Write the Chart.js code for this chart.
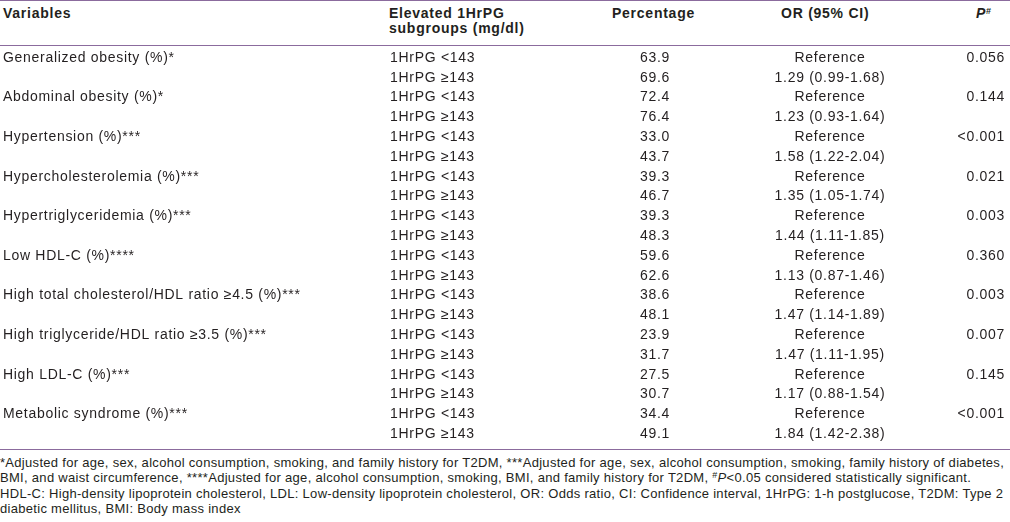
<!DOCTYPE html>
<html>
<head>
<meta charset="utf-8">
<script src="https://cdn.jsdelivr.net/npm/chart.js@4.4.1/dist/chart.umd.min.js"></script>
<style>
    html, body { margin: 0; padding: 0; background: #fff; }
    #wrap {
        position: relative; width: 1010px; height: 522px; overflow: hidden;
        font-family: "Liberation Sans", Arial, sans-serif; color: #231f20;
    }
    .rule { position: absolute; left: 0; width: 1010px; height: 1px; background: #8b6b9d; }
    .hd { position: absolute; font-weight: bold; font-size: 14px; line-height: 15px; letter-spacing: 0.75px; white-space: nowrap; }
    .note { position: absolute; left: 0; font-size: 13px; line-height: 15.5px; letter-spacing: 0.3px; white-space: nowrap; }
    #tableBox { position: absolute; left: 0; top: 47px; width: 1010px; height: 396px; }
    sup { font-size: 9px; vertical-align: 4px; line-height: 0; }
</style>
</head>
<body>
<div id="wrap">
    <div class="rule" style="top:0px;"></div>
    <div class="hd" style="left:3px; top:6px;">Variables</div>
    <div class="hd" style="left:389px; top:6px;">Elevated 1HrPG<br>subgroups (mg/dl)</div>
    <div class="hd" style="left:612px; top:6px;">Percentage</div>
    <div class="hd" style="left:781px; top:6px;">OR (95% CI)</div>
    <div class="hd" style="left:976px; top:6px;"><i>P</i><sup>#</sup></div>
    <div class="rule" style="top:45px;"></div>

    <div id="tableBox"><canvas id="oddsTable"></canvas></div>

    <div class="rule" style="top:449px;"></div>
    <div class="note" style="top:455px;">*Adjusted for age, sex, alcohol consumption, smoking, and family history for T2DM, ***Adjusted for age, sex, alcohol consumption, smoking, family history of diabetes,</div>
    <div class="note" style="top:470px;">BMI, and waist circumference, ****Adjusted for age, alcohol consumption, smoking, BMI, and family history for T2DM, <sup>#</sup><i>P</i>&lt;0.05 considered statistically significant.</div>
    <div class="note" style="top:486px;">HDL-C: High-density lipoprotein cholesterol, LDL: Low-density lipoprotein cholesterol, OR: Odds ratio, CI: Confidence interval, 1HrPG: 1-h postglucose, T2DM: Type 2</div>
    <div class="note" style="top:501px;">diabetic mellitus, BMI: Body mass index</div>
</div>

<script>
// ===== Table data =====
const variables = [
    'Generalized obesity (%)*',
    'Abdominal obesity (%)*',
    'Hypertension (%)***',
    'Hypercholesterolemia (%)***',
    'Hypertriglyceridemia (%)***',
    'Low HDL-C (%)****',
    'High total cholesterol/HDL ratio \u22654.5 (%)***',
    'High triglyceride/HDL ratio \u22653.5 (%)***',
    'High LDL-C (%)***',
    'Metabolic syndrome (%)***'
];
const subgroups = ['1HrPG <143', '1HrPG \u2265143'];
const pctLow = [63.9, 72.4, 33.0, 39.3, 39.3, 59.6, 38.6, 23.9, 27.5, 34.4];
const pctHigh = [69.6, 76.4, 43.7, 46.7, 48.3, 62.6, 48.1, 31.7, 30.7, 49.1];
const orHigh = [
    '1.29 (0.99-1.68)', '1.23 (0.93-1.64)', '1.58 (1.22-2.04)', '1.35 (1.05-1.74)', '1.44 (1.11-1.85)',
    '1.13 (0.87-1.46)', '1.47 (1.14-1.89)', '1.47 (1.11-1.95)', '1.17 (0.88-1.54)', '1.84 (1.42-2.38)'
];
const pValues = ['0.056', '0.144', '<0.001', '0.021', '0.003', '0.360', '0.003', '0.007', '0.145', '<0.001'];

// column anchors (x in px across the table)
const colVar = 3, colSub = 390, colPct = 670, colOr = 830, colP = 1005;

// two rows per variable
const rowKeys = [];
variables.forEach((v, i) => { rowKeys.push('r' + (2 * i)); rowKeys.push('r' + (2 * i + 1)); });

function makeColumn(x, texts, align) {
    const data = [], labels = [];
    texts.forEach((t, i) => {
        if (t === null) return;
        data.push({ x: x, y: rowKeys[i] });
        labels.push(t);
    });
    return { data: data, texts: labels, align: align, pointRadius: 0, showLine: false };
}

const varCol = [], subCol = [], pctCol = [], orCol = [], pCol = [];
variables.forEach((v, i) => {
    varCol.push(v, null);
    subCol.push(subgroups[0], subgroups[1]);
    pctCol.push(pctLow[i].toFixed(1), pctHigh[i].toFixed(1));
    orCol.push('Reference', orHigh[i]);
    pCol.push(pValues[i], null);
});

// draws the cell texts at the positions the scales give each point
const cellText = {
    id: 'cellText',
    afterDatasetsDraw(chart) {
        const ctx = chart.ctx;
        ctx.save();
        ctx.fillStyle = '#231f20';
        ctx.font = '14px "Liberation Sans", Arial, sans-serif';
        ctx.letterSpacing = '0.7px';
        ctx.textBaseline = 'middle';
        chart.data.datasets.forEach((ds, di) => {
            const meta = chart.getDatasetMeta(di);
            ctx.textAlign = ds.align;
            meta.data.forEach((pt, j) => {
                ctx.fillText(ds.texts[j], pt.x, pt.y + 1);
            });
        });
        ctx.restore();
    }
};

new Chart(document.getElementById('oddsTable'), {
    type: 'scatter',
    data: {
        datasets: [
            makeColumn(colVar, varCol, 'left'),
            makeColumn(colSub, subCol, 'left'),
            makeColumn(colPct, pctCol, 'right'),
            makeColumn(colOr, orCol, 'center'),
            makeColumn(colP, pCol, 'right')
        ]
    },
    options: {
        responsive: true,
        maintainAspectRatio: false,
        animation: false,
        layout: { padding: 0 },
        scales: {
            x: { type: 'linear', min: 0, max: 1010, display: false },
            y: { type: 'category', labels: rowKeys, offset: true, display: false }
        },
        plugins: { legend: { display: false }, tooltip: { enabled: false } }
    },
    plugins: [cellText]
});
</script>
</body>
</html>
